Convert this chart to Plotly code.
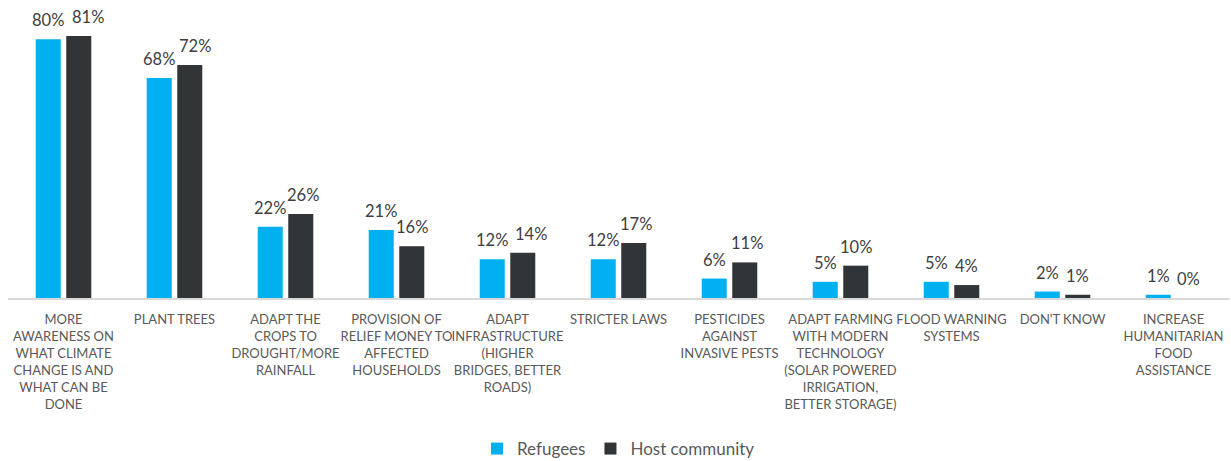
import plotly.graph_objects as go

# Survey responses: measures that should be taken against climate change
categories = [
    "MORE<br>AWARENESS ON<br>WHAT CLIMATE<br>CHANGE IS AND<br>WHAT CAN BE<br>DONE",
    "PLANT TREES",
    "ADAPT THE<br>CROPS TO<br>DROUGHT/MORE<br>RAINFALL",
    "PROVISION OF<br>RELIEF MONEY TO<br>AFFECTED<br>HOUSEHOLDS",
    "ADAPT<br>INFRASTRUCTURE<br>(HIGHER<br>BRIDGES, BETTER<br>ROADS)",
    "STRICTER LAWS",
    "PESTICIDES<br>AGAINST<br>INVASIVE PESTS",
    "ADAPT FARMING<br>WITH MODERN<br>TECHNOLOGY<br>(SOLAR POWERED<br>IRRIGATION,<br>BETTER STORAGE)",
    "FLOOD WARNING<br>SYSTEMS",
    "DON'T KNOW",
    "INCREASE<br>HUMANITARIAN<br>FOOD<br>ASSISTANCE",
]
refugees = [80, 68, 22, 21, 12, 12, 6, 5, 5, 2, 1]
host_community = [81, 72, 26, 16, 14, 17, 11, 10, 4, 1, 0]

FONT = "Lato"
LABEL_COLOR = "#404040"

# geometry of grouped bars (pixels)
WIDTH, HEIGHT = 1231, 461
MARGIN = dict(l=8, r=2, t=23, b=163)
BARGAP, BARGROUPGAP = 0.45, 0.18
cat_px = (WIDTH - MARGIN["l"] - MARGIN["r"]) / len(categories)
slot_px = cat_px * (1 - BARGAP) / 2
# label nudges so that neighbouring value labels at similar heights do not collide
host_label_nudge = [9, 5, 2.5, 0, 8, 2.5, 2, 0, 0, 0, 0]

fig = go.Figure()
series = [
    ("Refugees", refugees, "#00B0F0", -slot_px / 2, [0] * len(categories)),
    ("Host community", host_community, "#323537", slot_px / 2, host_label_nudge),
]
for name, values, color, offset, nudges in series:
    fig.add_trace(go.Bar(
        name=name, x=categories, y=values,
        marker=dict(color=color, line=dict(width=0)),
        hoverinfo="x+y",
    ))
    for cat, v, n in zip(categories, values, nudges):
        fig.add_annotation(
            x=cat, y=v, xref="x", yref="y",
            text=f"{v}%", showarrow=False,
            xshift=offset + n, yshift=7, yanchor="bottom",
            font=dict(size=16.5, color=LABEL_COLOR, family=FONT),
        )

fig.update_layout(
    width=WIDTH, height=HEIGHT,
    margin=MARGIN,
    paper_bgcolor="white", plot_bgcolor="white",
    barmode="group", bargap=BARGAP, bargroupgap=BARGROUPGAP,
    font=dict(family=FONT, color="#595959"),
    showlegend=True,
    legend=dict(
        orientation="h", x=0.5, xanchor="center",
        yref="container", y=0.026, yanchor="middle",
        font=dict(size=17, color="#595959", family=FONT),
        itemwidth=30,
    ),
)
fig.update_xaxes(
    type="category", tickangle=0,
    showline=True, linecolor="#D9D9D9", linewidth=1.5,
    ticks="", ticklabelstandoff=9,
    tickfont=dict(size=13, color="#595959", family=FONT),
    showgrid=False,
)
fig.update_yaxes(
    range=[0, 85], visible=False, showgrid=False, zeroline=False,
)

fig.write_html("out.html")
